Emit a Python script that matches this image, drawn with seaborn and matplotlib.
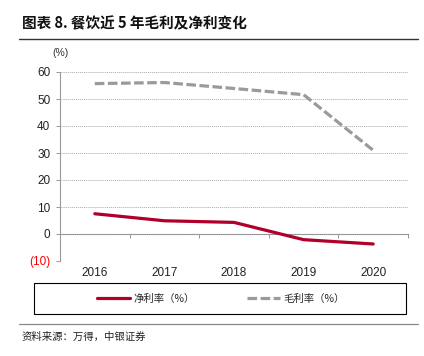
import matplotlib
matplotlib.use("Agg")
import matplotlib.pyplot as plt
import seaborn as sns
import pandas as pd
from matplotlib.lines import Line2D
from matplotlib.patches import Rectangle

years = ["2016", "2017", "2018", "2019", "2020"]
net_margin = [7.5, 4.9, 4.3, -2.1, -3.7]
gross_margin = [55.7, 56.1, 53.9, 51.6, 31.0]
series_names = ["净利率（%）", "毛利率（%）"]
y_ticks = [60, 50, 40, 30, 20, 10, 0, -10]

sns.set_theme(style="white")
plt.rcParams["font.family"] = ["Liberation Sans", "Noto Sans CJK SC", "DejaVu Sans"]

df = pd.DataFrame({
    "year": years * 2,
    "pos": list(range(len(years))) * 2,
    "value": net_margin + gross_margin,
    "series": [series_names[0]] * len(years) + [series_names[1]] * len(years),
})

fig = plt.figure(figsize=(4.24, 3.56), dpi=100)
ax = fig.add_axes([60/424, 1-261/356, 348/424, 189/356])

red = "#B0002A"
gray = "#9A9A9A"
dash = (3.0, 1.1)
sns.lineplot(data=df, x="pos", y="value", hue="series", style="series",
             palette={series_names[0]: red, series_names[1]: gray},
             dashes={series_names[0]: "", series_names[1]: dash},
             linewidth=2.3, legend=False, ax=ax)

ax.set_xlim(-0.5, len(years) - 0.5)
ax.set_ylim(-10, 60)
ax.set_xticks(range(len(years)))
ax.set_xticklabels(years, fontsize=8.5, color="#222222")
ax.tick_params(axis="x", length=0, pad=4)
ax.set_yticks(y_ticks)
ax.set_yticklabels([f"({abs(v)})" if v < 0 else str(v) for v in y_ticks], fontsize=8.5)
for t, v in zip(ax.get_yticklabels(), y_ticks):
    t.set_color("#FF0000" if v < 0 else "#222222")
ax.tick_params(axis="y", length=3, width=0.6, color="#888888", pad=4, left=True)
ax.set_xlabel("")
ax.set_ylabel("")
ax.yaxis.grid(True, color="#AAAAAA", linestyle=(0, (1, 1)), linewidth=0.7)
ax.xaxis.grid(False)
ax.set_axisbelow(True)
for s in ["top", "right"]:
    ax.spines[s].set_visible(False)
ax.spines["left"].set_color("#999999")
ax.spines["left"].set_linewidth(0.8)
ax.spines["bottom"].set_visible(False)

# zero axis line with category boundary ticks
sec = ax.secondary_xaxis(10/70)
sec.set_xticks([i - 0.5 for i in range(len(years) + 1)])
sec.set_xticklabels([])
sec.tick_params(axis="x", length=3, width=0.6, color="#888888", direction="out")
sec.spines["bottom"].set_color("#888888")
sec.spines["bottom"].set_linewidth(0.8)

fig.text(52/424, 1-53/356, "(%)", fontsize=7.5, color="#333333", va="center")

# title and rules
fig.text(22/424, 1-23/356, "图表 8. 餐饮近 5 年毛利及净利变化", fontsize=10.5,
         fontweight="bold", va="center", color="#111111",
         family=["Noto Sans CJK SC", "DejaVu Sans"])
fig.add_artist(Line2D([19/424, 418/424], [1-39/356, 1-39/356], color="#333333", linewidth=1.0))
fig.add_artist(Line2D([19/424, 418/424], [1-324/356, 1-324/356], color="#888888", linewidth=0.9))
fig.text(22/424, 1-337/356, "资料来源：万得，中银证券", fontsize=7.5, style="italic",
         va="center", color="#222222", family=["Noto Sans CJK SC", "DejaVu Sans"])

# legend box
fig.add_artist(Rectangle((34/424, 1-314/356), 372/424, 31/356, transform=fig.transFigure,
                         fill=False, edgecolor="#000000", linewidth=0.8))
handles = [Line2D([], [], color=red, linewidth=2.3),
           Line2D([], [], color=gray, linewidth=2.3, dashes=dash)]
leg = fig.legend(handles, series_names, loc="center", ncol=2,
                 bbox_to_anchor=(221/424, 1-298.5/356),
                 frameon=False, handlelength=3.2,
                 prop={"family": ["Noto Sans CJK SC", "DejaVu Sans"], "size": 7.5},
                 columnspacing=5.0, handletextpad=0.3)

fig.savefig("out.png", dpi=100)
